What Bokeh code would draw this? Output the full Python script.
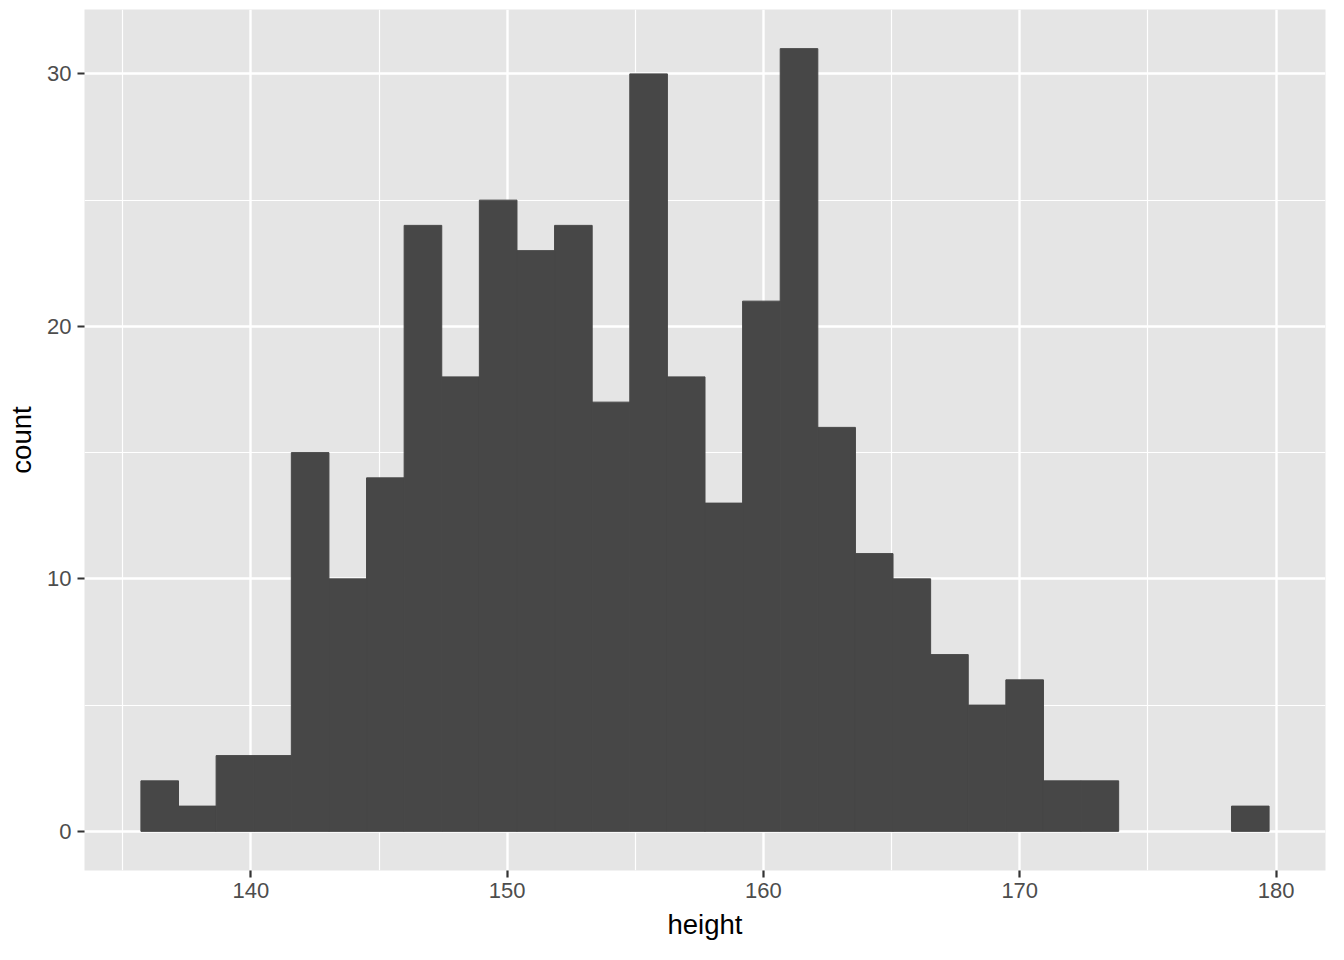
from bokeh.plotting import figure
from bokeh.models import Range1d, FixedTicker, ColumnDataSource
from bokeh.embed import file_html
from bokeh.resources import INLINE

# Histogram of height (30 bins)
bin_start = 135.71
bin_width = 1.4673
counts = [2, 1, 3, 3, 15, 10, 14, 24, 18, 25, 23, 24, 17, 30, 18,
          13, 21, 31, 16, 11, 10, 7, 5, 6, 2, 2, 0, 0, 0, 1]
x_ticks = [140, 150, 160, 170, 180]
x_minor = [135, 145, 155, 165, 175]
y_ticks = [0, 10, 20, 30]
y_minor = [5, 15, 25]
x_label = "height"
y_label = "count"

lefts, rights, tops = [], [], []
for i, c in enumerate(counts):
    if c > 0:
        lefts.append(bin_start + i * bin_width)
        rights.append(bin_start + (i + 1) * bin_width)
        tops.append(c)
src = ColumnDataSource(dict(left=lefts, right=rights, top=tops, bottom=[0] * len(tops)))

x_lo, x_hi = bin_start, bin_start + bin_width * len(counts)
x_pad = (x_hi - x_lo) * 0.05
y_pad = max(counts) * 0.05

p = figure(width=1328, height=944, output_backend="svg", toolbar_location=None,
           x_range=Range1d(x_lo - x_pad, x_hi + x_pad),
           y_range=Range1d(-y_pad, max(counts) + y_pad),
           min_border_left=84, min_border_right=3, min_border_top=9, min_border_bottom=74)

p.background_fill_color = "#E5E5E5"
p.border_fill_color = "white"
p.outline_line_color = None

p.quad(left="left", right="right", top="top", bottom="bottom", source=src,
       fill_color="#474747", line_color="#474747", line_width=1.0)

p.xaxis.ticker = FixedTicker(ticks=x_ticks, minor_ticks=x_minor)
p.yaxis.ticker = FixedTicker(ticks=y_ticks, minor_ticks=y_minor)

for g in (p.xgrid, p.ygrid):
    g.grid_line_color = "white"
    g.grid_line_width = 2.4
    g.minor_grid_line_color = "white"
    g.minor_grid_line_width = 1.2

for ax in (p.xaxis, p.yaxis):
    ax.axis_line_color = None
    ax.major_tick_line_color = "#333333"
    ax.major_tick_line_width = 2.2
    ax.major_tick_out = 7
    ax.major_tick_in = 0
    ax.minor_tick_line_color = None
    ax.major_label_text_font = "Liberation Sans"
    ax.major_label_text_font_size = "22px"
    ax.major_label_text_color = "#4D4D4D"
    ax.axis_label_text_font = "Liberation Sans"
    ax.axis_label_text_font_size = "27.5px"
    ax.axis_label_text_font_style = "normal"
    ax.axis_label_text_color = "black"

p.xaxis.axis_label = x_label
p.yaxis.axis_label = y_label
p.xaxis.major_label_standoff = 5
p.yaxis.major_label_standoff = 6
p.xaxis.axis_label_standoff = 8
p.yaxis.axis_label_standoff = 7

open("out.html", "w").write(file_html(p, INLINE))
